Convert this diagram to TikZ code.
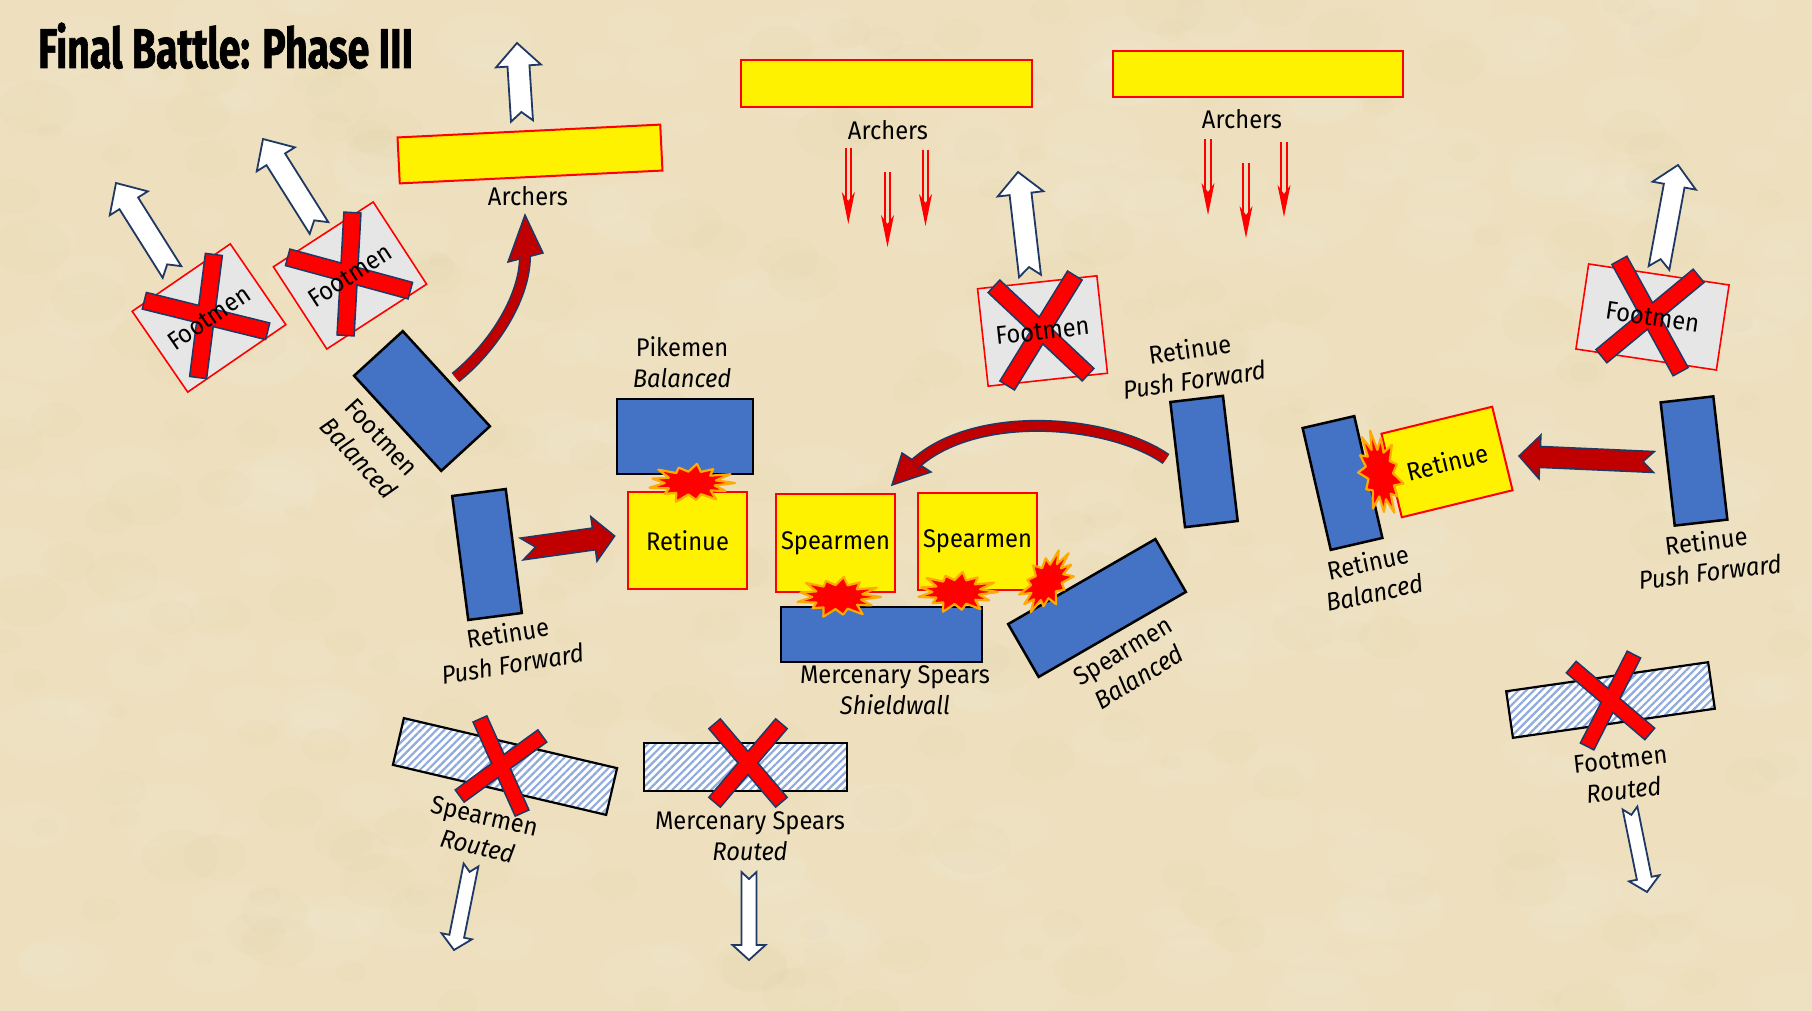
\documentclass[tikz,border=0pt]{standalone}
\usepackage{fontspec}
\usepackage{graphicx}
\setmainfont{Fira Sans}[FakeStretch=0.93]
\newfontfamily\titlefamily{Fira Sans}[FakeStretch=0.7,FakeBold=1.2]
\usetikzlibrary{patterns.meta}
\definecolor{parch}{RGB}{238,224,190}
\definecolor{parchdark}{RGB}{200,170,120}
\definecolor{ublue}{RGB}{68,114,196}
\definecolor{navy}{RGB}{31,56,100}
\definecolor{dred}{RGB}{192,0,0}
\definecolor{hatchblue}{RGB}{143,170,220}
\definecolor{boomedge}{RGB}{255,170,0}
\definecolor{lgray}{RGB}{230,230,230}
\newcommand\labfont{\fontsize{25.5}{31}\selectfont}
% notched block arrow: style, tail x,y, tip x,y, shaft w, head W, head length, notch
\newcommand\blockarr[9]{%
  \pgfmathsetmacro\bkA{atan2((#3)-(#5),(#4)-(#2))}%
  \pgfmathsetmacro\bkL{veclen((#4)-(#2),(#5)-(#3))}%
  \pgfmathsetmacro\bkS{\bkL-(#8)}%
  \begin{scope}[shift={(#2,#3)}, rotate=\bkA]
    \draw[#1] (0,#6/2) -- (\bkS,#6/2) -- (\bkS,#7/2) -- (\bkL,0) -- (\bkS,-#7/2)
      -- (\bkS,-#6/2) -- (0,-#6/2) -- (#9,0) -- cycle;
  \end{scope}}
% red X: centre, angle a, length a, angle b, length b, thickness
\newcommand\mkx[6]{%
  \begin{scope}[shift={#1}]
    \draw[xbar, rotate=#2] (-#3/2,-#6/2) rectangle (#3/2,#6/2);
    \draw[xbar, rotate=#4] (-#5/2,-#6/2) rectangle (#5/2,#6/2);
    \fill[red, rotate=#2] (-#3/2+1,-#6/2+1) rectangle (#3/2-1,#6/2-1);
    \fill[red, rotate=#4] (-#5/2+1,-#6/2+1) rectangle (#5/2-1,#6/2-1);
  \end{scope}}
% explosion: centre, rx, ry, rotation
\newcommand\mkboom[4]{%
  \begin{scope}[shift={#1}, rotate=#4, xscale=#2, yscale=#3]
    \filldraw[fill=red, draw=boomedge, line width=2.2pt, line join=round]
      (0:1) -- (13:.55) -- (27:.88) -- (40:.58) -- (55:1) -- (68:.6) -- (82:.85)
      -- (96:.58) -- (110:1) -- (124:.6) -- (138:.8) -- (152:.57) -- (166:.97)
      -- (180:.6) -- (194:.9) -- (208:.57) -- (222:1) -- (236:.6) -- (250:.82)
      -- (264:.57) -- (278:.97) -- (292:.6) -- (306:.86) -- (320:.57) -- (334:1)
      -- (347:.58) -- cycle;
  \end{scope}}
% volley of arrows: x, top y, tip y
\newcommand\mkvolley[3]{%
  \draw[red, line width=1.8pt] (#1-2.7,#2) -- (#1-2.7,#3-20) (#1+2.7,#2) -- (#1+2.7,#3-20);
  \fill[red] (#1,#3) -- (#1-6.5,#3-32) -- (#1,#3-23) -- (#1+6.5,#3-32) -- cycle;}
\begin{document}
\begin{tikzpicture}[x=1pt,y=-1pt,
  unit/.style={draw=black, line width=2.5pt, fill=ublue, inner sep=0pt, outer sep=0pt},
  ybox/.style={draw=red, line width=2pt, fill=yellow, inner sep=0pt, font=\labfont},
  gbox/.style={draw=red, line width=1.6pt, fill=lgray, inner sep=0pt},
  hbox/.style={draw=black, line width=2.2pt, inner sep=0pt, preaction={fill=white},
    pattern={Lines[angle=45,distance=5.5pt,line width=2.2pt]}, pattern color=hatchblue},
  lab/.style={font=\labfont, align=center, inner sep=0pt},
  xbar/.style={fill=red, draw=navy, line width=1.6pt},
  warrow/.style={fill=white, draw=navy, line width=1.8pt, line join=miter},
  rarrow/.style={fill=dred, draw=navy, line width=1.5pt, line join=miter},
  cshaft/.style={draw=navy, line width=1.5pt, double=dred, double distance=9pt}]
\useasboundingbox (0,0) rectangle (1812,1011);
\fill[parch] (0,0) rectangle (1812,1011);
% parchment mottling
\pgfmathsetseed{4242}
\foreach \i in {1,...,300}{%
  \pgfmathsetmacro\tx{rnd*1812}\pgfmathsetmacro\ty{rnd*1011}%
  \pgfmathsetmacro\tr{15+rnd*40}%
  \fill[white, opacity=0.05] (\tx,\ty) ellipse ({\tr} and {0.6*\tr});}
\foreach \i in {1,...,220}{%
  \pgfmathsetmacro\tx{rnd*1812}\pgfmathsetmacro\ty{rnd*1011}%
  \pgfmathsetmacro\tr{10+rnd*30}%
  \fill[parchdark, opacity=0.035] (\tx,\ty) ellipse ({\tr} and {0.7*\tr});}

% title
\node[anchor=base west, inner sep=0pt, font=\titlefamily\bfseries\fontsize{56}{60}\selectfont] (title) at (38,68) {Final Battle: Phase III};

% archers
\node[ybox, minimum width=263pt, minimum height=46pt, rotate=2.8] (archA) at (530,154) {};
\node[ybox, minimum width=291pt, minimum height=47pt] (archB) at (886.5,83.5) {};
\node[ybox, minimum width=290pt, minimum height=46pt] (archC) at (1258,74) {};
\node[lab] (archAl) at (528,196.5) {Archers};
\node[lab] (archBl) at (888,130) {Archers};
\node[lab] (archCl) at (1242,119) {Archers};
\mkvolley{848.3}{148}{224}
\mkvolley{887.5}{172}{247}
\mkvolley{925.5}{150}{226}
\mkvolley{1208}{139}{215}
\mkvolley{1246}{163}{238}
\mkvolley{1284}{142}{217}

% routed footmen (grey)
\node[gbox, minimum width=119pt, minimum height=98pt, rotate=34.5] (fm1) at (209,318) {};
\node[gbox, minimum width=119pt, minimum height=98pt, rotate=33] (fm2) at (350,275.5) {};
\node[gbox, minimum width=120pt, minimum height=98pt, rotate=6.2] (fm3) at (1042.5,331) {};
\node[gbox, minimum width=142pt, minimum height=86pt, rotate=-8.5] (fm4) at (1652.5,317) {};
\blockarr{warrow}{172}{272}{116}{183}{22}{45}{24}{9}
\blockarr{warrow}{319}{228}{263}{139}{22}{45}{24}{9}
\blockarr{warrow}{1030}{276}{1018}{172}{22}{46}{22}{9}
\blockarr{warrow}{522}{121}{517}{43}{22}{45}{23}{9}
\blockarr{warrow}{1659}{268}{1678}{165}{21}{44}{21}{9}
\mkx{(206,316)}{82.7}{124}{-13.9}{127}{17}
\mkx{(349,274)}{86.8}{123}{-15.2}{127}{17}
\mkx{(1041,330.5)}{-43.2}{129}{58.4}{129}{17}
\mkx{(1650,316)}{-61.2}{127}{39.6}{126}{17}
\node[lab, rotate=34.5] at (fm1) {Footmen};
\node[lab, rotate=33] at (fm2) {Footmen};
\node[lab, rotate=6.2] at (fm3) {Footmen};
\node[lab, rotate=-8.5] at (fm4) {Footmen};

% blue units
\node[unit, minimum width=129pt, minimum height=66pt, rotate=-47.5] (fbal) at (422,401) {};
\node[unit, minimum width=136pt, minimum height=75pt] (pike) at (685,436.5) {};
\node[unit, minimum width=54pt, minimum height=125pt, rotate=7.4] (retL) at (487,554.5) {};
\node[unit, minimum width=201pt, minimum height=55pt] (merc) at (881.5,634.5) {};
\node[unit, minimum width=170pt, minimum height=61pt, rotate=30] (spbal) at (1097,608) {};
\node[unit, minimum width=53pt, minimum height=126pt, rotate=6.7] (retM) at (1204,461.5) {};
\node[unit, minimum width=53pt, minimum height=125pt, rotate=13] (retB) at (1342.5,483) {};
\node[unit, minimum width=53pt, minimum height=124pt, rotate=6.5] (retR) at (1694,461) {};

% yellow units
\node[ybox, minimum width=119pt, minimum height=97pt] (ret) at (687.5,540.5) {Retinue};
\node[ybox, minimum width=119pt, minimum height=98pt] (sp1) at (835.5,543) {Spearmen};
\node[ybox, minimum width=119pt, minimum height=97pt] (sp2) at (977.5,541.5) {Spearmen};
\node[ybox, minimum width=114pt, minimum height=86pt, rotate=13.7] (retY) at (1447,462) {Retinue};

% routed (hatched)
\node[hbox, minimum width=219pt, minimum height=48pt, rotate=-13.2] (spR) at (505,766.5) {};
\node[hbox, minimum width=203pt, minimum height=48pt] (mercR) at (745.5,767) {};
\node[hbox, minimum width=204pt, minimum height=47pt, rotate=8.2] (footR) at (1610.5,700) {};
\mkx{(501,766)}{-65.9}{103}{36}{102}{15}
\mkx{(748,763)}{-49.6}{103}{49.6}{103}{15}
\mkx{(1610.5,700.5)}{-40.4}{103}{63}{103}{15}
\blockarr{warrow}{471}{865}{454}{950}{15}{31}{14}{7}
\blockarr{warrow}{749}{872}{749}{960}{15}{33}{15}{7}
\blockarr{warrow}{1630}{808}{1647}{892}{15}{31}{14}{7}

% red movement arrows
\blockarr{rarrow}{521.7}{549}{614.7}{536}{22}{45}{21}{14}
\blockarr{rarrow}{1654}{462}{1519}{456}{21}{44}{21}{11}
\draw[rarrow] (508,262) -- (525,215) -- (543,253) -- cycle;
\draw[cshaft] (455.5,377.5) .. controls (490,350) and (525,300) .. (525,256);
\draw[rarrow] (902,453) -- (892,485) -- (931,472) -- cycle;
\draw[cshaft] (1166,459) .. controls (1110,420) and (976,408) .. (914.5,464.3);

% clashes
\mkboom{(691,483)}{44}{20}{0}
\mkboom{(838,597)}{43}{21}{0}
\mkboom{(957,592)}{41}{21}{0}
\mkboom{(1047,582)}{36}{22}{53}
\mkboom{(1380,473.5)}{44}{22}{103}

% labels
\node[lab] (pikel) at (682,362.5) {Pikemen\\\textit{Balanced}};
\node[lab, rotate=-47.5] (fball) at (370,448) {Footmen\\\textit{Balanced}};
\node[lab, rotate=9] (retLl) at (510,648) {Retinue\\\textit{Push Forward}};
\node[lab] (mercl) at (895,690) {Mercenary Spears\\\textit{Shieldwall}};
\node[lab, rotate=31] (spball) at (1131,664) {Spearmen\\\textit{Balanced}};
\node[lab, rotate=8] (retMl) at (1192,364) {Retinue\\\textit{Push Forward}};
\node[lab, rotate=12] (retBl) at (1371,577) {Retinue\\\textit{Balanced}};
\node[lab, rotate=7] (retRl) at (1708,556) {Retinue\\\textit{Push Forward}};
\node[lab, rotate=-13] (spRl) at (481,831) {Spearmen\\\textit{Routed}};
\node[lab] (mercRl) at (750,836) {Mercenary Spears\\\textit{Routed}};
\node[lab, rotate=6.5] (footRl) at (1622,775) {Footmen\\\textit{Routed}};
\end{tikzpicture}
\end{document}
